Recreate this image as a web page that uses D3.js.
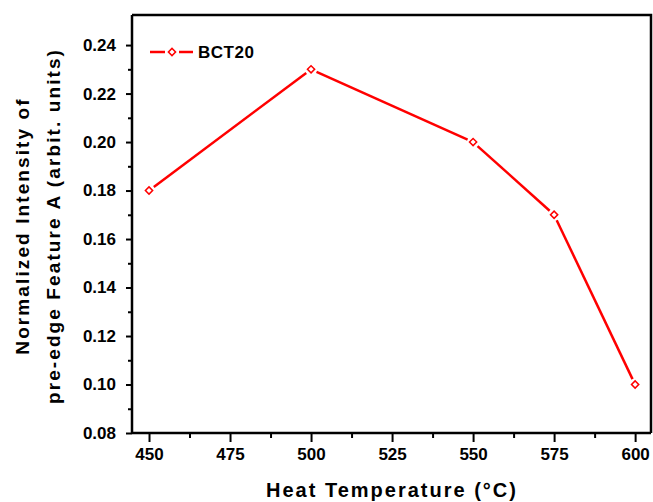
<!DOCTYPE html>
<html>
<head>
<meta charset="utf-8">
<script src="https://cdn.jsdelivr.net/npm/d3@7/dist/d3.min.js"></script>
<style>
  body { margin: 0; background: #fff; }
  svg text { font-family: "Liberation Sans", Arial, sans-serif; font-weight: bold; }
</style>
</head>
<body>
<div id="chart"></div>
<script>
var temps = [450, 500, 550, 575, 600];
var intensity = [0.18, 0.23, 0.20, 0.17, 0.10];
var xTicks = [450, 475, 500, 525, 550, 575, 600];
var xMinor = [462.5, 487.5, 512.5, 537.5, 562.5, 587.5];
var yTicks = [0.08, 0.10, 0.12, 0.14, 0.16, 0.18, 0.20, 0.22, 0.24];
var yMinor = [0.09, 0.11, 0.13, 0.15, 0.17, 0.19, 0.21, 0.23];
var seriesName = "BCT20";

var w = 653, h = 502;
var padLeft = 132, padRight = 651, padTop = 15, padBottom = 433;

var svg = d3.select("#chart").append("svg")
    .attr("width", w)
    .attr("height", h);

var xScale = d3.scaleLinear().domain([444.75, 604.9]).range([padLeft, padRight]);
var yScale = d3.scaleLinear().domain([0.08, 0.2524]).range([padBottom, padTop]);

// frame (top and right)
svg.append("path")
    .attr("d", "M" + padLeft + "," + padTop + "H" + padRight + "V" + padBottom)
    .attr("fill", "none")
    .attr("stroke", "#000")
    .attr("stroke-width", 2.5);

// x axis
var xAxis = svg.append("g")
    .attr("transform", "translate(0," + padBottom + ")")
    .call(d3.axisBottom(xScale).tickValues(xTicks).tickSize(9).tickPadding(6).tickFormat(d3.format("d")));
svg.append("g")
    .attr("transform", "translate(0," + padBottom + ")")
    .call(d3.axisBottom(xScale).tickValues(xMinor).tickSize(5).tickFormat(""))
    .select(".domain").remove();

// y axis
var yAxis = svg.append("g")
    .attr("transform", "translate(" + padLeft + ",0)")
    .call(d3.axisLeft(yScale).tickValues(yTicks).tickSize(6).tickPadding(10).tickFormat(d3.format(".2f")));
svg.append("g")
    .attr("transform", "translate(" + padLeft + ",0)")
    .call(d3.axisLeft(yScale).tickValues(yMinor).tickSize(4).tickFormat(""))
    .select(".domain").remove();

xAxis.select(".domain").attr("stroke-width", 2.5).attr("d", "M" + padLeft + ",0H" + padRight);
yAxis.select(".domain").attr("stroke-width", 2.5).attr("d", "M0," + padTop + "V" + padBottom);
svg.selectAll(".tick line").attr("stroke-width", 2);
svg.selectAll(".tick text").attr("font-size", "17px").attr("fill", "#000");

// series: line segments with gaps around markers
var pts = temps.map(function(t, i) { return [xScale(t), yScale(intensity[i])]; });
var gap = 6;
for (var i = 0; i < pts.length - 1; i++) {
    var a = pts[i], b = pts[i + 1];
    var dx = b[0] - a[0], dy = b[1] - a[1];
    var len = Math.sqrt(dx * dx + dy * dy);
    var ux = dx / len, uy = dy / len;
    svg.append("line")
        .attr("x1", a[0] + ux * gap).attr("y1", a[1] + uy * gap)
        .attr("x2", b[0] - ux * gap).attr("y2", b[1] - uy * gap)
        .attr("stroke", "#ff0000")
        .attr("stroke-width", 2.5);
}

// open diamond = square rotated 45 degrees
var diamond = d3.symbol().type(d3.symbolSquare).size(26);
svg.selectAll("path.marker")
    .data(pts)
    .enter()
    .append("path")
    .attr("class", "marker")
    .attr("d", diamond)
    .attr("transform", function(d) { return "translate(" + d[0] + "," + d[1] + ") rotate(45)"; })
    .attr("fill", "#fff")
    .attr("stroke", "#ff0000")
    .attr("stroke-width", 1.5);

// legend
var lg = svg.append("g").attr("transform", "translate(150,52)");
lg.append("line").attr("x1", 0).attr("x2", 15).attr("stroke", "#ff0000").attr("stroke-width", 2.5);
lg.append("line").attr("x1", 29).attr("x2", 43).attr("stroke", "#ff0000").attr("stroke-width", 2.5);
lg.append("path").attr("d", diamond).attr("transform", "translate(22,0) rotate(45)")
    .attr("fill", "#fff").attr("stroke", "#ff0000").attr("stroke-width", 1.5);
lg.append("text").attr("x", 48).attr("y", 6).attr("font-size", "17px")
    .attr("letter-spacing", "0.5px").text(seriesName);

// axis titles
svg.append("text")
    .attr("x", 392).attr("y", 497)
    .attr("text-anchor", "middle")
    .attr("font-size", "20px")
    .attr("letter-spacing", "2px")
    .text("Heat Temperature (°C)");

svg.append("text")
    .attr("transform", "translate(29,226) rotate(-90)")
    .attr("text-anchor", "middle")
    .attr("font-size", "19px")
    .attr("letter-spacing", "2.1px")
    .text("Normalized Intensity of");
svg.append("text")
    .attr("transform", "translate(60,226) rotate(-90)")
    .attr("text-anchor", "middle")
    .attr("font-size", "19px")
    .attr("letter-spacing", "2.1px")
    .text("pre-edge Feature A (arbit. units)");
</script>
</body>
</html>
